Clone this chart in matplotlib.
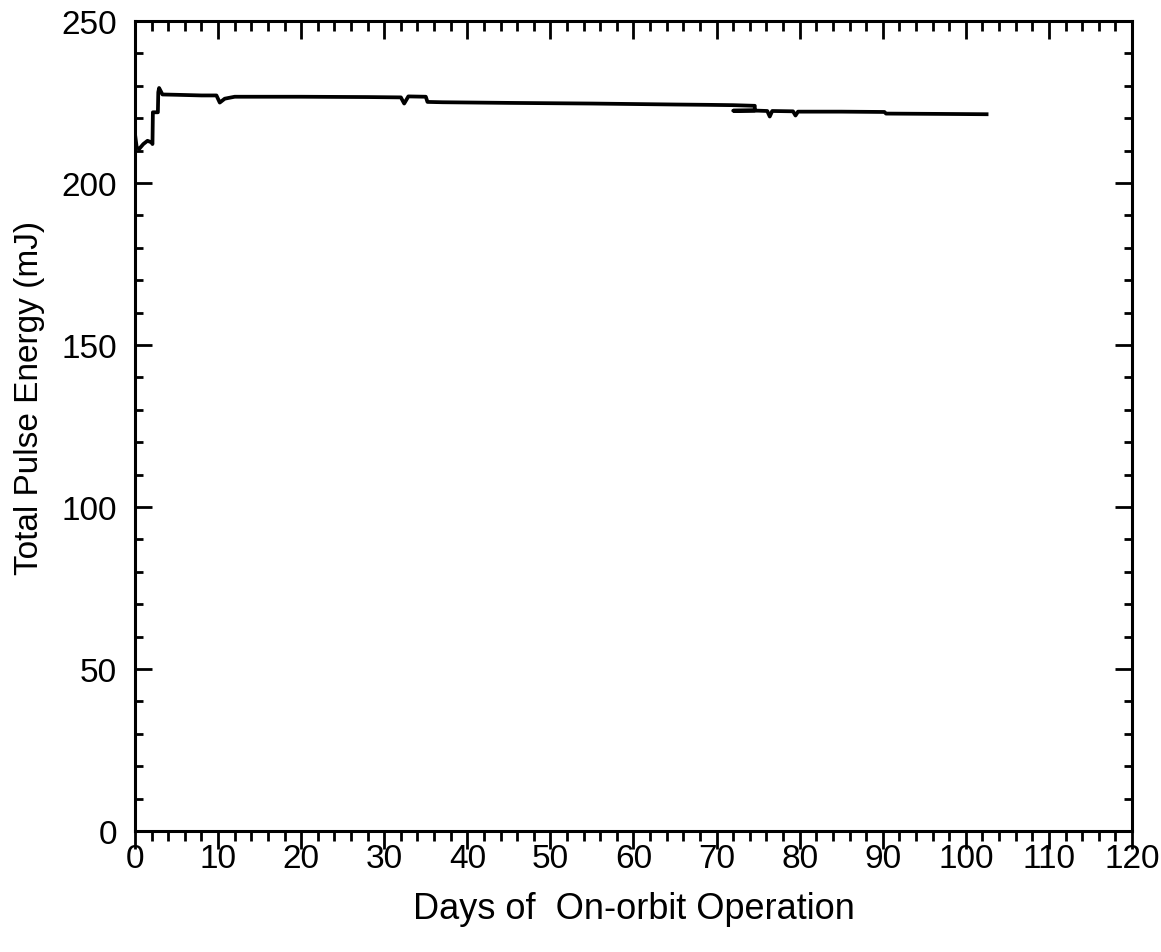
import numpy as np
import matplotlib.pyplot as plt
from matplotlib.ticker import MultipleLocator

# pulse energy record
days = [0.0, 0.2, 0.5, 1.0, 1.5, 2.0, 2.1, 2.15, 2.75, 2.8, 2.9, 3.3, 5.0, 8.0,
        9.8, 10.2, 10.8, 12.0, 20.0, 28.0, 32.0, 32.4, 32.9, 35.0, 35.2, 37.0,
        45.0, 55.0, 65.0, 69.0, 72.0, 74.6, 74.6, 72.0, 72.0, 75.0, 76.1, 76.4,
        76.7, 79.2, 79.5, 79.8, 85.0, 90.2, 90.4, 97.0, 102.5]
energy = [215.0, 211.0, 210.5, 212.0, 213.0, 212.5, 212.0, 221.8, 221.8, 228.0,
          229.3, 227.3, 227.2, 227.0, 227.0, 224.8, 226.0, 226.6, 226.6, 226.5,
          226.4, 224.5, 226.7, 226.6, 225.0, 224.9, 224.7, 224.5, 224.2, 224.1,
          224.0, 223.8, 222.4, 222.3, 222.3, 222.3, 222.2, 220.5, 222.2, 222.1,
          220.8, 222.0, 222.0, 221.9, 221.4, 221.3, 221.2]

plt.rcParams['font.family'] = ['Liberation Sans', 'DejaVu Sans']

fig, ax = plt.subplots(figsize=(11.61, 9.53), dpi=100)
fig.subplots_adjust(left=0.1163, right=0.975, top=0.977, bottom=0.127)

ax.plot(days, energy, color='black', lw=2.7, solid_joinstyle='round')

ax.set_xlim(0, 120)
ax.set_ylim(0, 250)
ax.xaxis.set_major_locator(MultipleLocator(10))
ax.xaxis.set_minor_locator(MultipleLocator(2))
ax.yaxis.set_major_locator(MultipleLocator(50))
ax.yaxis.set_minor_locator(MultipleLocator(10))

ax.tick_params(axis='x', which='both', direction='out', top=False, labelsize=24, width=2)
ax.tick_params(axis='x', which='major', length=13, pad=-4)
ax.tick_params(axis='x', which='minor', length=7)
ax.tick_params(axis='y', which='both', direction='in', right=True, labelsize=24, width=2)
ax.tick_params(axis='y', which='major', length=12, pad=13)
ax.tick_params(axis='y', which='minor', length=6)

# top axis: inward ticks without labels
top = ax.secondary_xaxis('top')
top.xaxis.set_major_locator(MultipleLocator(10))
top.xaxis.set_minor_locator(MultipleLocator(2))
top.tick_params(which='both', direction='in', labeltop=False, width=2)
top.tick_params(which='major', length=13)
top.tick_params(which='minor', length=7)

for s in ax.spines.values():
    s.set_linewidth(2.2)

ax.set_xlabel('Days of  On-orbit Operation', fontsize=26, labelpad=12)
ax.set_ylabel('Total Pulse Energy (mJ)', fontsize=24)
ax.yaxis.set_label_coords(-0.09, 0.536)

fig.savefig('out.png', dpi=100)
